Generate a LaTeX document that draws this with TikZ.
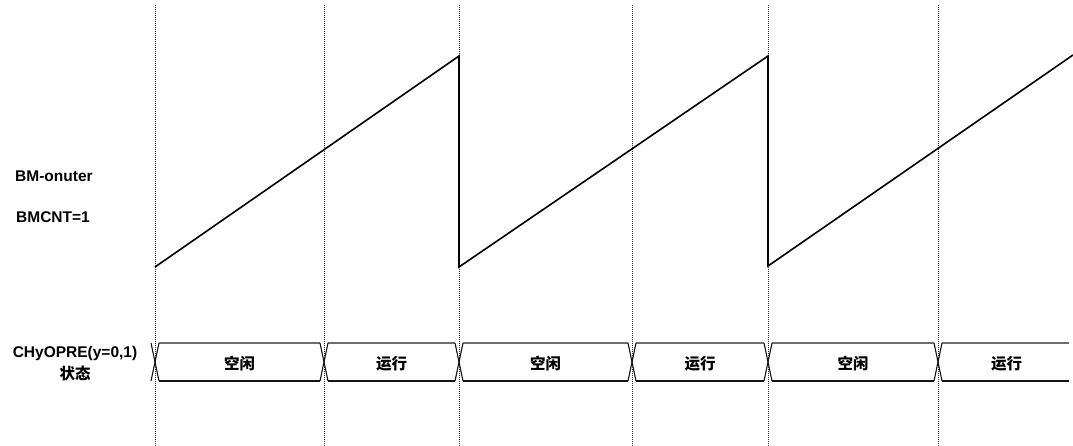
\documentclass[tikz,border=0pt]{standalone}
\usepackage{fontspec}
\setmainfont{Liberation Sans}
\newfontfamily\cjkfont{Noto Sans CJK SC}
\usetikzlibrary{calc}
\definecolor{gridColor}{RGB}{50,50,50}
\definecolor{busTopColor}{RGB}{110,110,110}
\definecolor{busColor}{RGB}{20,20,20}
\newcommand{\diagfont}{\fontsize{15.5}{22}\selectfont\bfseries}
\newcommand{\cjkdiagfont}{\cjkfont\fontsize{15.5}{22}\selectfont\bfseries}

\begin{document}
\begin{tikzpicture}[x=1pt, y=-1pt,
    sig/.style={font=\diagfont, inner sep=0pt, anchor=west},
    buslabel/.style={font=\cjkdiagfont, inner sep=0pt},
    tick/.style={gridColor, line width=1pt, dash pattern=on 1pt off 1pt},
    saw/.style={black, line width=1.6pt, line join=miter},
    bustop/.style={busTopColor, line width=1.1pt},
    busbot/.style={busColor, line width=1.1pt}
  ]
  \useasboundingbox (0,0) rectangle (1073,446);

  % time ticks
  \coordinate (t0) at (155,0);
  \coordinate (t1) at (324,0);
  \coordinate (t2) at (459,0);
  \coordinate (t3) at (632,0);
  \coordinate (t4) at (768,0);
  \coordinate (t5) at (938,0);
  \coordinate (tend) at (1069,0);
  \foreach \t in {t0,t1,t2,t3,t4,t5}
    \draw[tick] ($(\t)+(0,5)$) -- ($(\t)+(0,446)$);

  % signal labels
  \node[sig] (outer) at (15,176) {BM-onuter};
  \node[sig] (cnt) at (16,217) {BMCNT=1};
  \node[font=\diagfont, inner sep=0pt, align=center] (state) at (75,364)
    {CHyOPRE(y=0,1)\\ {\cjkdiagfont 状态}};

  % counter ramp
  \coordinate (r0) at (155,267);
  \coordinate (p0) at (459,56);
  \coordinate (r1) at (459,267);
  \coordinate (p1) at (768,56);
  \coordinate (r2) at (768,266);
  \coordinate (p2) at (1073,55);
  \draw[saw] (r0) -- (p0) -- (r1) -- (p1) -- (r2) -- (p2);

  % state bus
  \foreach \a/\b in {t0/t1,t1/t2,t2/t3,t3/t4,t4/t5} {
    \draw[bustop] ($(\a)+(4,343)$) -- ($(\b)+(-4,343)$);
    \draw[busbot] ($(\a)+(4,381)$) -- ($(\b)+(-4,381)$);
  }
  \draw[bustop] ($(t5)+(4,343)$) -- ($(tend)+(0,343)$);
  \draw[busbot] ($(t5)+(4,381)$) -- ($(tend)+(0,381)$);
  \foreach \t in {t0,t1,t2,t3,t4,t5} {
    \draw[busbot] ($(\t)+(-4,343)$) -- ($(\t)+(4,381)$);
    \draw[busbot] ($(\t)+(-4,381)$) -- ($(\t)+(4,343)$);
  }

  \node[buslabel] (s1) at ($(t0)!0.5!(t1)+(0,364)$) {空闲};
  \node[buslabel] (s2) at ($(t1)!0.5!(t2)+(0,364)$) {运行};
  \node[buslabel] (s3) at ($(t2)!0.5!(t3)+(0,364)$) {空闲};
  \node[buslabel] (s4) at ($(t3)!0.5!(t4)+(0,364)$) {运行};
  \node[buslabel] (s5) at ($(t4)!0.5!(t5)+(0,364)$) {空闲};
  \node[buslabel] (s6) at ($(t5)!0.5!(tend)+(3,364)$) {运行};
\end{tikzpicture}
\end{document}
